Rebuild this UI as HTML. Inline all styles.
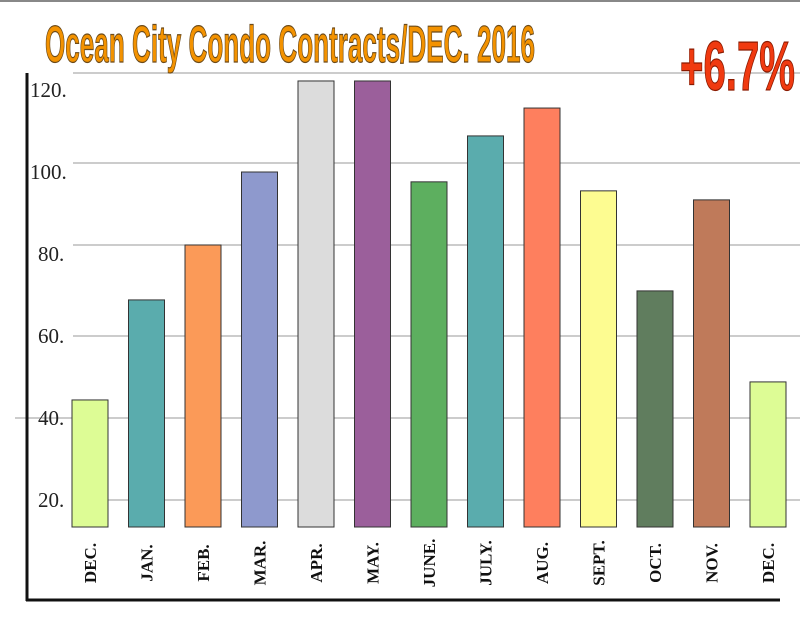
<!DOCTYPE html>
<html><head><meta charset="utf-8"><style>
html,body{margin:0;padding:0;background:#fff;width:800px;height:618px;overflow:hidden}
svg{display:block}
</style></head><body>
<svg id="chart" width="800" height="618" viewBox="0 0 800 618" xmlns="http://www.w3.org/2000/svg">
<line x1="0" y1="1" x2="800" y2="1" stroke="#888" stroke-width="2"/>
<g id="grid"></g>
<g id="bars"></g>
<g id="ylabels"></g>
<g id="xlabels"></g>
<line x1="27" y1="73" x2="27" y2="601" stroke="#111" stroke-width="3"/>
<line x1="26" y1="600" x2="780" y2="600" stroke="#111" stroke-width="3"/>
<text x="45" y="62" font-family="'Liberation Sans Narrow','Liberation Sans',sans-serif" font-weight="bold" font-size="52" fill="#f39200" stroke="#6b4a1a" stroke-width="1.2" textLength="490" lengthAdjust="spacingAndGlyphs">Ocean City Condo Contracts/DEC. 2016</text>
<text x="680" y="90" font-family="'Liberation Sans Narrow','Liberation Sans',sans-serif" font-weight="bold" font-size="70" fill="#f03a10" stroke="#8a1a00" stroke-width="1.2" textLength="115" lengthAdjust="spacingAndGlyphs">+6.7%</text>
</svg>
<script>
const categories = ["DEC.","JAN.","FEB.","MAR.","APR.","MAY.","JUNE.","JULY.","AUG.","SEPT.","OCT.","NOV.","DEC."];
const values = [44.4,68.8,82.2,100,122.2,122.2,97.6,108.8,115.6,95.4,71,93.2,48.8];
const colors = ["#ddfc95","#5aacad","#fb9a58","#8e99cd","#dcdcdc","#9b5f9b","#5daf5f","#5aacad","#fe7f5e","#fdfc91","#607d5e","#bf7a5a","#ddfc95"];
const ticks = [20,40,60,80,100,120];
const tickLabels = ["20.","40.","60.","80.","100.","120."];
const NS="http://www.w3.org/2000/svg";
const y = v => 582 - 4.1*v;
const baseY = 527;
const x = i => 90 + i*56.5;
const bw = 36;
function mk(tag, attrs, parent){const e=document.createElementNS(NS,tag);for(const k in attrs)e.setAttribute(k,attrs[k]);parent.appendChild(e);return e;}
const grid=document.getElementById('grid'), bars=document.getElementById('bars'), yl=document.getElementById('ylabels'), xl=document.getElementById('xlabels');
ticks.forEach((t,i)=>{
  const gy = t===120 ? 73 : (t>=80 ? y(t)-9 : y(t));
  const x1 = t===40 ? 15 : 73;
  const g=mk('line',{x1:x1,y1:gy,x2:800,y2:gy,stroke:'#999','stroke-width':1},grid);
  
  
  const tx=mk('text',{x:t>=100?30:38,y:y(t)+7,'font-family':"'Liberation Serif',serif",'font-size':21,fill:'#222'},yl);
  tx.textContent=tickLabels[i];
  
  
});
categories.forEach((c,i)=>{
  const top=y(values[i]);
  const r=mk('rect',{x:x(i)-bw/2,y:top,width:bw,height:baseY-top,fill:colors[i],stroke:'#333','stroke-width':1},bars);
  
  
  const t=mk('text',{x:0,y:0,'font-family':"'Liberation Serif',serif",'font-weight':'bold','font-size':17,fill:'#111','text-anchor':'middle',transform:`translate(${x(i)+6} 563) rotate(-90)`},xl);
  t.textContent=c;
  
  
});
</script>
</body></html>
